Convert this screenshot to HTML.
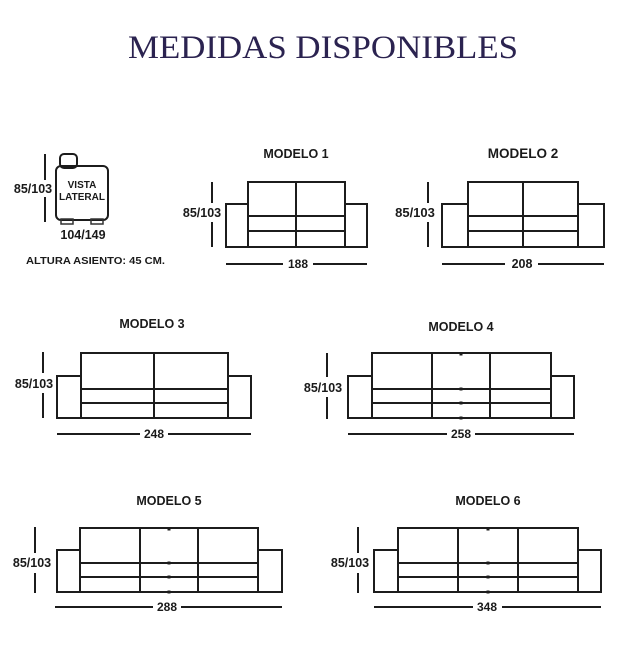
<!DOCTYPE html>
<html><head><meta charset="utf-8"><style>
html,body{margin:0;padding:0;background:#fff;}
svg{display:block;}
.t{font-family:"Liberation Sans",sans-serif;font-weight:bold;fill:#1a1a1a;}
.s{fill:none;stroke:#1c1c1c;stroke-width:2;}
.d{stroke:#1c1c1c;stroke-width:2;}
</style></head><body>
<svg width="624" height="652" viewBox="0 0 624 652" xmlns="http://www.w3.org/2000/svg">
<text x="323" y="58" text-anchor="middle" font-family="'Liberation Serif',serif" font-size="33" fill="#2b2350" textLength="390" lengthAdjust="spacingAndGlyphs">MEDIDAS DISPONIBLES</text>

<!-- side view -->
<rect class="s" x="60" y="154" width="17" height="14" rx="4"/>
<rect class="s" x="56" y="166" width="52" height="54" rx="5" fill="#fff"/>
<rect x="61" y="219" width="12" height="5" fill="none" stroke="#333" stroke-width="1.5"/>
<rect x="91" y="219" width="12" height="5" fill="none" stroke="#333" stroke-width="1.5"/>
<line class="d" x1="45" y1="154" x2="45" y2="180"/><line class="d" x1="45" y1="197" x2="45" y2="222"/>
<text class="t" x="33" y="193" font-size="12.5" text-anchor="middle">85/103</text>
<text class="t" x="82" y="188" font-size="10" text-anchor="middle">VISTA</text>
<text class="t" x="82" y="200" font-size="10" text-anchor="middle">LATERAL</text>
<text class="t" x="83" y="239" font-size="12.5" text-anchor="middle">104/149</text>
<text class="t" x="26" y="264" font-size="10.5" textLength="139" lengthAdjust="spacingAndGlyphs">ALTURA ASIENTO: 45 CM.</text>

<!-- MODELO 1 -->
<text class="t" x="296" y="158" font-size="12.5" text-anchor="middle">MODELO 1</text>
<path class="s" d="M226 247V204H248V182H345V204H367V247Z M248 204V247 M345 204V247 M248 216H345 M248 231H345 M296 182V247"/>
<line class="d" x1="212" y1="182" x2="212" y2="203"/><line class="d" x1="212" y1="222" x2="212" y2="247"/>
<text class="t" x="202" y="217" font-size="12.5" text-anchor="middle">85/103</text>
<line class="d" x1="226" y1="264" x2="283" y2="264"/><line class="d" x1="313" y1="264" x2="367" y2="264"/>
<text class="t" x="298" y="268" font-size="12" text-anchor="middle">188</text>

<!-- MODELO 2 -->
<text class="t" x="523" y="158" font-size="13.5" text-anchor="middle">MODELO 2</text>
<path class="s" d="M442 247V204H468V182H578V204H604V247Z M468 204V247 M578 204V247 M468 216H578 M468 231H578 M523 182V247"/>
<line class="d" x1="428" y1="182" x2="428" y2="203"/><line class="d" x1="428" y1="222" x2="428" y2="247"/>
<text class="t" x="415" y="217" font-size="13" text-anchor="middle">85/103</text>
<line class="d" x1="442" y1="264" x2="505" y2="264"/><line class="d" x1="538" y1="264" x2="604" y2="264"/>
<text class="t" x="522" y="268" font-size="12.5" text-anchor="middle">208</text>

<!-- MODELO 3 -->
<text class="t" x="152" y="328" font-size="12.5" text-anchor="middle">MODELO 3</text>
<path class="s" d="M57 418V376H81V353H228V376H251V418Z M81 376V418 M228 376V418 M81 389H228 M81 403H228 M154 353V418"/>
<line class="d" x1="43" y1="352" x2="43" y2="373"/><line class="d" x1="43" y1="393" x2="43" y2="418"/>
<text class="t" x="34" y="388" font-size="12.5" text-anchor="middle">85/103</text>
<line class="d" x1="57" y1="434" x2="140" y2="434"/><line class="d" x1="168" y1="434" x2="251" y2="434"/>
<text class="t" x="154" y="438" font-size="12" text-anchor="middle">248</text>

<!-- MODELO 4 -->
<text class="t" x="461" y="331" font-size="12.5" text-anchor="middle">MODELO 4</text>
<path class="s" d="M348 418V376H372V353H551V376H574V418Z M372 376V418 M551 376V418 M372 389H551 M372 403H551 M432 353V418 M490 353V418"/>
<g fill="#1c1c1c"><rect x="459.5" y="352.5" width="3" height="3"/><rect x="459.5" y="387.5" width="3" height="3"/><rect x="459.5" y="401.5" width="3" height="3"/><rect x="459.5" y="416.5" width="3" height="3"/></g>
<line class="d" x1="327" y1="353" x2="327" y2="377"/><line class="d" x1="327" y1="397" x2="327" y2="419"/>
<text class="t" x="323" y="392" font-size="12.5" text-anchor="middle">85/103</text>
<line class="d" x1="348" y1="434" x2="447" y2="434"/><line class="d" x1="475" y1="434" x2="574" y2="434"/>
<text class="t" x="461" y="438" font-size="12" text-anchor="middle">258</text>

<!-- MODELO 5 -->
<text class="t" x="169" y="505" font-size="12.5" text-anchor="middle">MODELO 5</text>
<path class="s" d="M57 592V550H80V528H258V550H282V592Z M80 550V592 M258 550V592 M80 563H258 M80 577H258 M140 528V592 M198 528V592"/>
<g fill="#1c1c1c"><rect x="167.5" y="527.5" width="3" height="3"/><rect x="167.5" y="561.5" width="3" height="3"/><rect x="167.5" y="575.5" width="3" height="3"/><rect x="167.5" y="590.5" width="3" height="3"/></g>
<line class="d" x1="35" y1="527" x2="35" y2="553"/><line class="d" x1="35" y1="573" x2="35" y2="593"/>
<text class="t" x="32" y="567" font-size="12.5" text-anchor="middle">85/103</text>
<line class="d" x1="55" y1="607" x2="153" y2="607"/><line class="d" x1="181" y1="607" x2="282" y2="607"/>
<text class="t" x="167" y="611" font-size="12" text-anchor="middle">288</text>

<!-- MODELO 6 -->
<text class="t" x="488" y="505" font-size="12.5" text-anchor="middle">MODELO 6</text>
<path class="s" d="M374 592V550H398V528H578V550H601V592Z M398 550V592 M578 550V592 M398 563H578 M398 577H578 M458 528V592 M518 528V592"/>
<g fill="#1c1c1c"><rect x="486.5" y="527.5" width="3" height="3"/><rect x="486.5" y="561.5" width="3" height="3"/><rect x="486.5" y="575.5" width="3" height="3"/><rect x="486.5" y="590.5" width="3" height="3"/></g>
<line class="d" x1="358" y1="527" x2="358" y2="553"/><line class="d" x1="358" y1="573" x2="358" y2="593"/>
<text class="t" x="350" y="567" font-size="12.5" text-anchor="middle">85/103</text>
<line class="d" x1="374" y1="607" x2="473" y2="607"/><line class="d" x1="502" y1="607" x2="601" y2="607"/>
<text class="t" x="487" y="611" font-size="12" text-anchor="middle">348</text>
</svg>
</body></html>
